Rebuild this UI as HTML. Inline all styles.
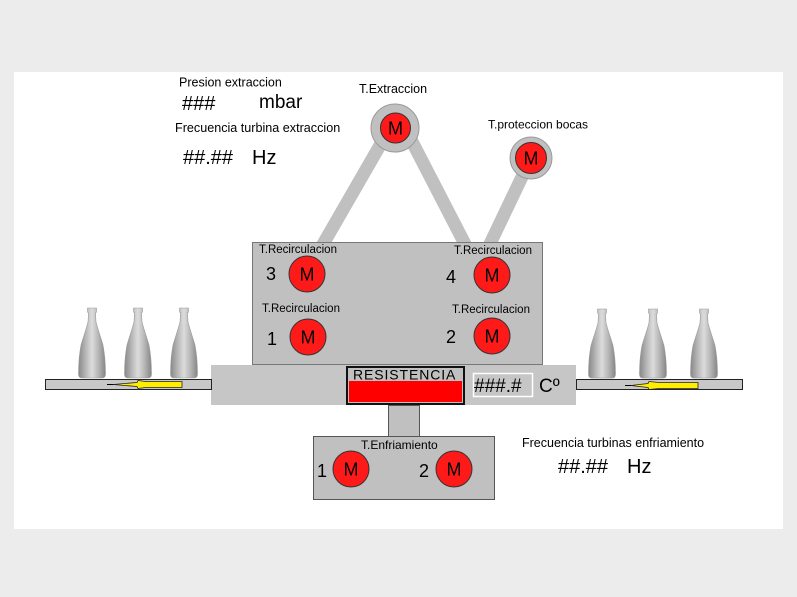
<!DOCTYPE html>
<html>
<head>
<meta charset="utf-8">
<style>
  html,body{margin:0;padding:0;background:#ececec;}
  svg{display:block;}
  text{font-family:"Liberation Sans", Arial, sans-serif;fill:#000;}
</style>
</head>
<body>
<svg width="797" height="597" viewBox="0 0 797 597" xmlns="http://www.w3.org/2000/svg">
  <defs>
    <linearGradient id="bottle" x1="0" y1="0" x2="1" y2="0">
      <stop offset="0" stop-color="#888"/>
      <stop offset="0.3" stop-color="#bdbdbd"/>
      <stop offset="0.5" stop-color="#dcdcdc"/>
      <stop offset="0.75" stop-color="#b4b4b4"/>
      <stop offset="1" stop-color="#858585"/>
    </linearGradient>
    <g id="btl">
      <path d="M-4.5,0 L4.5,0 L4.5,4 L3.5,5 L4,14 C6,22 9,30 11,37 C12.5,45 13.5,55 13.5,66 Q13.5,70 10,70 L-10,70 Q-13.5,70 -13.5,66 C-13.5,55 -12.5,45 -11,37 C-9,30 -6,22 -4,14 L-3.5,5 L-4.5,4 Z"/>
    </g>
  </defs>
  <rect x="0" y="0" width="797" height="597" fill="#ececec"/>
  <rect x="14" y="72" width="769" height="457" fill="#ffffff"/>

  <!-- legs -->
  <g stroke="#c0c0c0" stroke-width="13" stroke-linecap="butt">
    <line x1="390" y1="128" x2="322" y2="246"/>
    <line x1="404" y1="126" x2="466" y2="246"/>
    <line x1="531" y1="158" x2="489" y2="246"/>
  </g>

  <!-- top motors -->
  <circle cx="395" cy="128" r="24" fill="#c0c0c0" stroke="#999" stroke-width="1"/>
  <circle cx="395.5" cy="128" r="15" fill="#ff1a1a" stroke="#333" stroke-width="1"/>
  <text x="395.5" y="134.5" font-size="18" text-anchor="middle">M</text>
  <circle cx="531" cy="158" r="21" fill="#c0c0c0" stroke="#999" stroke-width="1"/>
  <circle cx="531" cy="158" r="15.5" fill="#ff1a1a" stroke="#333" stroke-width="1"/>
  <text x="531" y="164.5" font-size="18" text-anchor="middle">M</text>

  <!-- band -->
  <rect x="211" y="365" width="365" height="40" fill="#c6c6c6"/>
  <!-- main box -->
  <rect x="252.5" y="242.5" width="290" height="122" fill="#c0c0c0" stroke="#777" stroke-width="1"/>

  <!-- conveyors -->
  <rect x="45.5" y="379.5" width="166" height="10" fill="#c8c8c8" stroke="#222" stroke-width="1"/>
  <rect x="576.5" y="379.5" width="166" height="10" fill="#c8c8c8" stroke="#222" stroke-width="1"/>

  <!-- arrows -->
  <line x1="107" y1="384.5" x2="114" y2="384.5" stroke="#000" stroke-width="1"/>
  <polygon points="113,384.5 137,382.5 138,380.5 146,381.5 182,381.5 182,387.5 146,387.5 138,388.5 137,386.5" fill="#ffee00" stroke="#222" stroke-width="0.8"/>
  <line x1="625" y1="385.5" x2="632" y2="385.5" stroke="#000" stroke-width="1"/>
  <polygon points="631,385.5 648,383.5 649,381.5 659,382.5 698,382.5 698,388.5 659,388.5 649,389.5 648,387.5" fill="#ffee00" stroke="#222" stroke-width="0.8"/>

  <!-- bottles -->
  <g fill="url(#bottle)" stroke="#9a9a9a" stroke-width="0.6">
    <use href="#btl" transform="translate(92,308)"/>
    <use href="#btl" transform="translate(138,308)"/>
    <use href="#btl" transform="translate(184,308)"/>
    <use href="#btl" transform="translate(602,309) scale(1,0.986)"/>
    <use href="#btl" transform="translate(653,309) scale(1,0.986)"/>
    <use href="#btl" transform="translate(704,309) scale(1,0.986)"/>
  </g>

  <!-- resistencia -->
  <rect x="347" y="367" width="117" height="37" fill="#c0c0c0" stroke="#111" stroke-width="2"/>
  <rect x="349" y="381" width="113" height="21" fill="#ff0000"/>
  <text x="353" y="379.5" font-size="14" letter-spacing="0.9">RESISTENCIA</text>
  <rect x="473.5" y="373.5" width="59" height="23" fill="none" stroke="#fff" stroke-width="1.5"/>
  <text x="474" y="392" font-size="19">###.#</text>
  <text x="539" y="392" font-size="19">Cº</text>

  <!-- enfriamiento -->
  <rect x="388.5" y="405.5" width="31" height="31" fill="#c0c0c0" stroke="#555" stroke-width="1"/>
  <rect x="313.5" y="436.5" width="181" height="63" fill="#c0c0c0" stroke="#555" stroke-width="1"/>
  <text x="361" y="449" font-size="12">T.Enfriamiento</text>
  <text x="317" y="477" font-size="18">1</text>
  <text x="419" y="477" font-size="18">2</text>

  <!-- motors -->
  <g fill="#ff1a1a" stroke="#333" stroke-width="1">
    <circle cx="307" cy="274" r="18"/>
    <circle cx="492" cy="275" r="18"/>
    <circle cx="308" cy="337" r="18"/>
    <circle cx="492" cy="336" r="18"/>
    <circle cx="351" cy="469" r="18"/>
    <circle cx="454" cy="469" r="18"/>
  </g>
  <g font-size="18" text-anchor="middle">
    <text x="307" y="280.5">M</text>
    <text x="492" y="281.5">M</text>
    <text x="308" y="343.5">M</text>
    <text x="492" y="342.5">M</text>
    <text x="351" y="475.5">M</text>
    <text x="454" y="475.5">M</text>
  </g>

  <!-- recirculacion labels -->
  <g font-size="11.5">
    <text x="259" y="253">T.Recirculacion</text>
    <text x="454" y="254">T.Recirculacion</text>
    <text x="262" y="312">T.Recirculacion</text>
    <text x="452" y="313">T.Recirculacion</text>
  </g>
  <g font-size="18">
    <text x="266" y="280">3</text>
    <text x="446" y="283">4</text>
    <text x="267" y="345">1</text>
    <text x="446" y="343">2</text>
  </g>

  <!-- top texts -->
  <text x="179" y="86.5" font-size="12.5">Presion extraccion</text>
  <text x="182" y="110" font-size="20">###</text>
  <text x="259" y="108" font-size="19">mbar</text>
  <text x="175" y="132" font-size="12.6">Frecuencia turbina extraccion</text>
  <text x="183" y="164" font-size="20">##.##</text>
  <text x="252" y="164" font-size="20">Hz</text>
  <text x="359" y="93" font-size="12.5">T.Extraccion</text>
  <text x="488" y="128.5" font-size="12">T.proteccion bocas</text>

  <text x="522" y="447" font-size="12.5">Frecuencia turbinas enfriamiento</text>
  <text x="558" y="473" font-size="20">##.##</text>
  <text x="627" y="473" font-size="20">Hz</text>
</svg>
</body>
</html>
